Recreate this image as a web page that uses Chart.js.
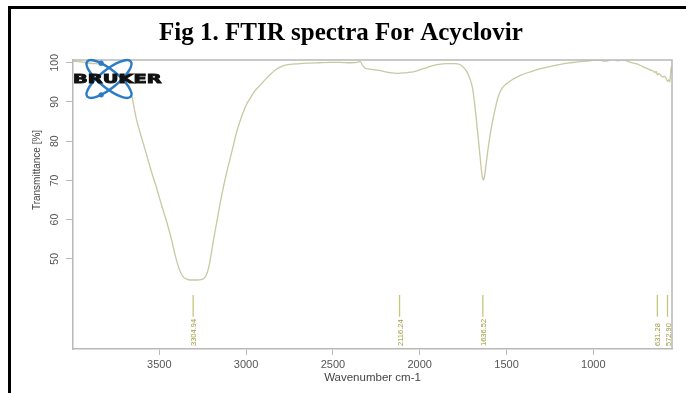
<!DOCTYPE html>
<html>
<head>
<meta charset="utf-8">
<script src="https://cdn.jsdelivr.net/npm/chart.js"></script>
<style>
  body { margin: 0; background: #fff; }
  #wrap { position: relative; width: 686px; height: 393px; overflow: hidden; }
  #frame { position: absolute; left: 8px; top: 6px; right: -10px; bottom: -10px;
           border-left: 3px solid #000; border-top: 3px solid #000; }
  canvas { position: absolute; left: 0; top: 0; }
</style>
</head>
<body>
<div id="wrap">
  <div id="frame"></div>
  <canvas id="myChart" width="686" height="393"></canvas>
</div>
<script>
// spectrum (wavenumber cm-1, transmittance %)
let wavenumbers = [
  3997, 3960, 3920, 3880, 3842, 3800, 3760, 3720, 3690, 3670, 3659, 3645, 3630, 3600,
  3573, 3545, 3515, 3485, 3457, 3430, 3409, 3390, 3375, 3362, 3342, 3320, 3300, 3280,
  3260, 3246, 3232, 3217, 3200, 3185, 3169, 3140, 3111, 3080, 3054, 3020, 2995, 2977,
  2950, 2919, 2890, 2861, 2830, 2804, 2760, 2720, 2689, 2640, 2580, 2516, 2460, 2400,
  2360, 2343, 2330, 2314, 2290, 2260, 2227, 2190, 2160, 2131, 2100, 2070, 2037, 2000,
  1970, 1944, 1900, 1843, 1800, 1766, 1745, 1727, 1710, 1698, 1689, 1675, 1660, 1648,
  1640, 1634, 1628, 1618, 1605, 1595, 1583, 1565, 1550, 1535, 1510, 1480, 1460, 1420,
  1362, 1304, 1250, 1190, 1130, 1075, 1020, 960, 940, 920, 900, 884, 860, 840,
  820, 805, 780, 750, 728, 710, 690, 670, 655, 645, 638, 631, 622, 610,
  600, 590, 580, 573, 566, 560, 555, 551, 548
];
let transmittance = [
  100.4, 100.3, 100.0, 99.8, 99.6, 98.9, 97.8, 96.4, 94.8, 93.2, 91.8, 88.5, 85.3, 80.6,
  76.5, 72.2, 68.0, 63.4, 59.4, 55.0, 51.0, 48.0, 46.3, 45.4, 44.8, 44.6, 44.6, 44.6,
  44.7, 44.9, 45.6, 47.5, 51.5, 55.5, 59.4, 66.3, 72.2, 77.7, 82.4, 87.0, 89.6, 90.9,
  92.8, 94.3, 95.7, 97.0, 98.2, 98.9, 99.5, 99.7, 99.8, 99.9, 100.0, 100.1, 100.1, 100.0,
  100.1, 100.3, 99.4, 98.6, 98.4, 98.2, 98.0, 97.6, 97.4, 97.3, 97.4, 97.5, 97.7, 98.2,
  98.6, 99.0, 99.5, 99.8, 99.8, 99.5, 98.7, 97.6, 95.8, 94.0, 91.5, 86.0, 79.5, 74.0,
  71.0, 70.1, 70.8, 74.0, 78.5, 81.5, 84.5, 88.3, 91.0, 92.8, 94.3, 95.3, 95.9, 96.8,
  97.7, 98.5, 99.0, 99.6, 100.0, 100.3, 100.5, 100.7, 100.4, 100.5, 100.8, 100.9, 100.5, 100.8,
  100.6, 100.4, 100.0, 99.7, 99.3, 98.9, 98.5, 98.1, 97.9, 97.5, 97.8, 96.9, 97.3, 96.7,
  96.4, 96.6, 95.9, 95.3, 95.6, 95.1, 97.2, 99.0, 97.4
];

let peakWns = [3304.94, 2116.24, 1636.52, 631.28, 572.90];
let peakLabels = ["3304.94", "2116.24", "1636.52", "631.28", "572.90"];

let xTicks = [3500, 3000, 2500, 2000, 1500, 1000];
let yTicks = [50, 60, 70, 80, 90, 100];

let titolo = "Fig 1. FTIR spectra For Acyclovir";

let spettro = wavenumbers.map((w, i) => ({ x: w, y: transmittance[i] }));

// peak marker sticks (low / high end of each stick, in % units)
let stickLow = 35.2;
let stickHigh = 40.8;
let sticks = [];
peakWns.forEach(w => {
  sticks.push({ x: w, y: stickLow });
  sticks.push({ x: w, y: stickHigh });
  sticks.push({ x: w, y: null });
});

const asseGrigio = "#b8b8b8";

const disegnaExtra = {
  id: "disegnaExtra",
  afterDatasetsDraw(chart) {
    const c = chart.ctx;
    const a = chart.chartArea;
    const xs = chart.scales.x;
    const ys = chart.scales.y;
    c.save();

    // box top + right
    c.strokeStyle = asseGrigio;
    c.lineWidth = 1.5;
    c.beginPath();
    c.moveTo(a.left, a.top);
    c.lineTo(a.right, a.top);
    c.lineTo(a.right, a.bottom);
    c.stroke();

    // y tick labels (vertical)
    c.fillStyle = "#555";
    c.font = "10.5px 'Liberation Sans', Arial, sans-serif";
    c.textAlign = "center";
    c.textBaseline = "middle";
    yTicks.forEach(v => {
      c.save();
      c.translate(55.5, ys.getPixelForValue(v));
      c.rotate(-Math.PI / 2);
      c.fillText(String(v), 0, 0);
      c.restore();
    });

    // y axis title
    c.save();
    c.fillStyle = "#444";
    c.font = "10px 'Liberation Sans', Arial, sans-serif";
    c.translate(37, 170);
    c.rotate(-Math.PI / 2);
    c.fillText("Transmittance [%]", 0, 0);
    c.restore();

    // x axis title
    c.fillStyle = "#444";
    c.font = "11.5px 'Liberation Sans', Arial, sans-serif";
    c.fillText("Wavenumber cm-1", (a.left + a.right) / 2, 378);

    // peak labels
    c.fillStyle = "#9a9a3c";
    c.font = "7.5px 'Liberation Sans', Arial, sans-serif";
    c.textAlign = "left";
    peakWns.forEach((w, i) => {
      c.save();
      c.translate(xs.getPixelForValue(w) + 1, 346);
      c.rotate(-Math.PI / 2);
      c.fillText(peakLabels[i], 0, 0);
      c.restore();
    });

    // title
    c.fillStyle = "#000";
    c.font = "bold 25px 'Liberation Serif', 'Times New Roman', serif";
    c.textAlign = "center";
    c.textBaseline = "alphabetic";
    c.fillText(titolo, 341, 40);

    // BRUKER logo
    const cx = 109, cy = 79, rx = 28, ry = 9;
    c.strokeStyle = "#2b7cc6";
    c.lineWidth = 2.4;
    [0.68, -0.68].forEach(r => {
      c.beginPath();
      c.ellipse(cx, cy, rx, ry, r, 0, Math.PI * 2);
      c.stroke();
    });
    c.fillStyle = "#2b7cc6";
    [[0.68, 4.1], [-0.68, 2.18]].forEach(p => {
      const r = p[0], t = p[1];
      const px = cx + rx * Math.cos(t) * Math.cos(r) - ry * Math.sin(t) * Math.sin(r);
      const py = cy + rx * Math.cos(t) * Math.sin(r) + ry * Math.sin(t) * Math.cos(r);
      c.beginPath();
      c.arc(px, py, 2.6, 0, Math.PI * 2);
      c.fill();
    });
    c.save();
    c.fillStyle = "#111";
    c.strokeStyle = "#111";
    c.lineWidth = 0.9;
    c.font = "bold 12.5px 'DejaVu Sans', sans-serif";
    c.textAlign = "left";
    c.textBaseline = "middle";
    c.translate(73, cy + 0.5);
    c.scale(1.55, 1);
    c.fillText("BRUKER", 0, 0);
    c.strokeText("BRUKER", 0, 0);
    c.restore();

    c.restore();
  }
};

var ctx = document.getElementById("myChart");
var myChart = new Chart(ctx, {
  type: "line",
  data: {
    datasets: [
      {
        data: spettro,
        borderColor: "#c8c8a2",
        borderWidth: 1.3,
        pointRadius: 0,
        cubicInterpolationMode: "monotone",
        fill: false,
      },
      {
        data: sticks,
        borderColor: "#c6c67a",
        borderWidth: 1.3,
        pointRadius: 0,
        spanGaps: false,
        fill: false,
      },
    ],
  },
  options: {
    responsive: false,
    animation: false,
    devicePixelRatio: 1,
    layout: { padding: { left: 43, top: 60, right: 14, bottom: 24 } },
    plugins: {
      legend: { display: false },
      tooltip: { enabled: false },
      title: { display: false },
    },
    scales: {
      x: {
        type: "linear",
        reverse: true,
        min: 547,
        max: 3997,
        afterBuildTicks: s => { s.ticks = xTicks.map(v => ({ value: v })); },
        afterFit: s => { s.height = 20; },
        grid: { drawOnChartArea: false, drawTicks: true, tickLength: 6, color: asseGrigio },
        border: { display: true, color: asseGrigio, width: 1.5 },
        ticks: {
          font: { family: "'Liberation Sans', Arial, sans-serif", size: 11 },
          color: "#555",
          padding: 3,
          maxRotation: 0,
          autoSkip: false,
          callback: v => String(v),
        },
      },
      y: {
        min: 27,
        max: 100.7,
        afterBuildTicks: s => { s.ticks = yTicks.map(v => ({ value: v })); },
        afterFit: s => { s.width = 30; },
        grid: { drawOnChartArea: false, drawTicks: true, tickLength: 7, color: asseGrigio },
        border: { display: true, color: asseGrigio, width: 1.5 },
        ticks: { display: false },
      },
    },
  },
  plugins: [disegnaExtra],
});
</script>
</body>
</html>
